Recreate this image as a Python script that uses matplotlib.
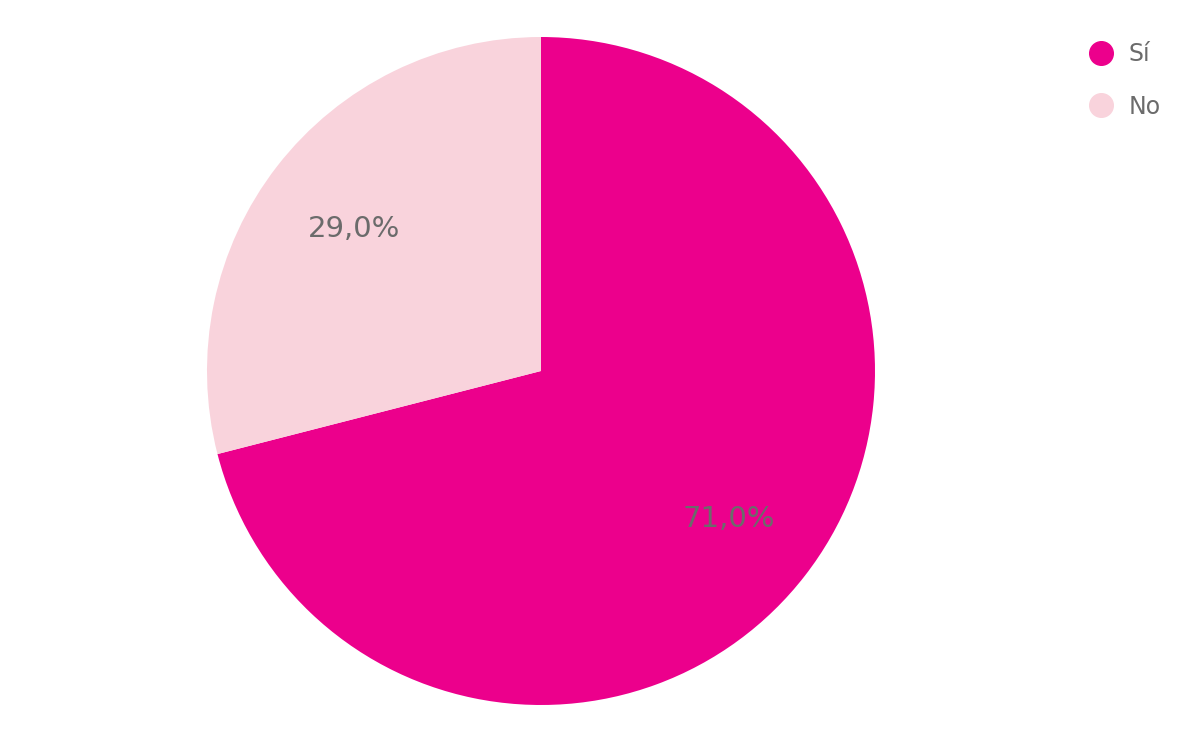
import matplotlib.pyplot as plt
from matplotlib.lines import Line2D

# data
labels = ['Sí', 'No']
values = [71.0, 29.0]
colors = ['#EC008C', '#F9D3DC']
text_color = '#6b6b6b'

fig = plt.figure(figsize=(12, 7.42), dpi=100)

# pie axes, square in pixels: center (541, 371), radius 334
r_px = 334
ax = fig.add_axes([(541 - r_px) / 1200, (742 - 371 - r_px) / 742, 2 * r_px / 1200, 2 * r_px / 742])

wedges, texts, autotexts = ax.pie(values,
                                  colors=colors,
                                  startangle=90,
                                  counterclock=False,
                                  radius=1,
                                  pctdistance=0.71,
                                  autopct=lambda p: f'{p:.1f}%'.replace('.', ','),
                                  textprops=dict(color=text_color, fontsize=21),
                                  wedgeprops=dict(linewidth=0))
# nudge labels a few pixels down
for t in autotexts:
    x, y = t.get_position()
    t.set_position((x, y - 3 / r_px))

ax.set_xlim(-1, 1)
ax.set_ylim(-1, 1)

# legend
handles = [Line2D([], [], linestyle='none', marker='o', markersize=17,
                  markerfacecolor=c, markeredgecolor=c) for c in colors]
leg = fig.legend(handles, labels,
                 loc='upper left',
                 bbox_to_anchor=(1068 / 1200, 1 - 21 / 742),
                 frameon=False,
                 fontsize=17,
                 labelcolor=text_color,
                 handlelength=1.0,
                 handletextpad=0.65,
                 labelspacing=1.2)

fig.savefig('out.png', dpi=100)
